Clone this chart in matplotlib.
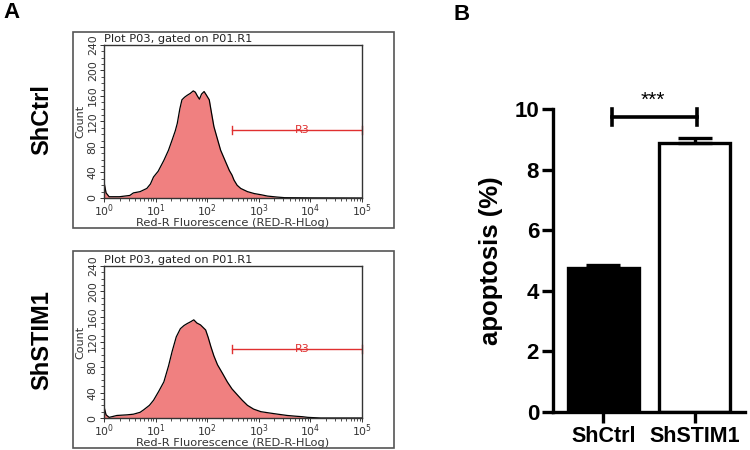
import numpy as np
import matplotlib
matplotlib.use('Agg')
import matplotlib.pyplot as plt
from matplotlib.patches import Rectangle

# ---- flow cytometry histograms (x as log10 of fluorescence, y = count)
ctrl_logx = [0.00, 0.04, 0.10, 0.30, 0.50, 0.57, 0.70, 0.83, 0.90, 0.96, 1.05, 1.16, 1.25,
             1.32, 1.38, 1.42, 1.47, 1.51, 1.56, 1.61, 1.67, 1.73, 1.77, 1.81, 1.85, 1.89,
             1.94, 1.98, 2.04, 2.08, 2.13, 2.20, 2.26, 2.35, 2.43, 2.48, 2.52, 2.58, 2.65,
             2.78, 2.91, 3.05, 3.17, 3.35, 3.50, 4.00, 5.00]
ctrl_count = [25, 8, 2, 2, 4, 8, 10, 15, 22, 33, 42, 59, 75,
              91, 105, 117, 140, 154, 158, 161, 164, 168, 166, 160, 155, 163,
              167, 162, 154, 135, 112, 92, 75, 58, 43, 36, 28, 20, 15,
              10, 7, 5, 3, 1.5, 0.5, 0.2, 0]

stim_logx = [0.00, 0.04, 0.10, 0.25, 0.45, 0.57, 0.70, 0.77, 0.88, 0.96, 1.06, 1.16, 1.25,
             1.32, 1.40, 1.48, 1.55, 1.61, 1.68, 1.74, 1.80, 1.87, 1.92, 1.97, 2.02, 2.07,
             2.13, 2.20, 2.30, 2.39, 2.48, 2.59, 2.68, 2.78, 2.90, 3.04, 3.20, 3.37, 3.55,
             3.69, 3.85, 3.95, 4.20, 5.00]
stim_count = [18, 5, 1, 4, 5, 6, 9, 13, 20, 28, 42, 57, 82,
              105, 128, 141, 146, 149, 152, 155, 150, 147, 143, 139, 127, 113,
              98, 84, 70, 57, 46, 36, 28, 20, 14, 10, 8, 6, 4,
              3, 2, 1, 0, 0]

gate_start = 10 ** 2.48
gate_end = 1e5
gate_y = [107, 109]

# ---- bar chart
groups = ['ShCtrl', 'ShSTIM1']
apoptosis = [4.76, 8.88]
apoptosis_err = [0.10, 0.15]

fig = plt.figure(figsize=(7.5, 4.5), dpi=100)
W, H = 750.0, 450.0


def px_axes(x0, y0, x1, y1):
    return fig.add_axes([x0 / W, 1 - y1 / H, (x1 - x0) / W, (y1 - y0) / H])


panels = [
    (ctrl_logx, ctrl_count, gate_y[0], (45, 198), (32, 228), 'ShCtrl'),
    (stim_logx, stim_count, gate_y[1], (266, 418), (251, 448), 'ShSTIM1'),
]
for logx, counts, gy, (ytop, ybot), (otop, obot), name in panels:
    fig.patches.append(Rectangle((73 / W, 1 - obot / H), (394 - 73) / W, (obot - otop) / H,
                                 transform=fig.transFigure, fill=False,
                                 edgecolor='#555555', linewidth=1.2))
    ax = px_axes(104, ytop, 362, ybot)
    xs = 10 ** np.array(logx)
    ax.fill_between(xs, counts, 0, color='#F08080', linewidth=0)
    ax.plot(xs, counts, color='black', linewidth=0.9)
    ax.set_xscale('log')
    ax.set_xlim(1, 1e5)
    ax.set_ylim(0, 240)
    ax.set_yticks(range(0, 241, 40))
    ax.set_yticks(range(0, 241, 10), minor=True)
    for tl in ax.get_yticklabels():
        tl.set_rotation(90)
        tl.set_va('center')
    ax.tick_params(axis='both', which='major', labelsize=7.8, length=3, width=0.7,
                   colors='#333333', pad=1.5)
    ax.tick_params(axis='x', which='major', pad=0.3)
    ax.tick_params(axis='both', which='minor', length=2, width=0.6, colors='#333333')
    for s in ax.spines.values():
        s.set_color('#333333')
        s.set_linewidth(1.0)
    ax.set_ylabel('Count', fontsize=8, color='#333333', labelpad=2)
    ax.set_xlabel('Red-R Fluorescence (RED-R-HLog)', fontsize=8.2, color='#333333',
                  labelpad=-1)
    ax.text(0.0, 1.005, 'Plot P03, gated on P01.R1', transform=ax.transAxes,
            fontsize=8.2, color='#222222', ha='left', va='bottom')
    # R3 gate
    ax.plot([gate_start, gate_end], [gy, gy], color='#E03030', linewidth=1.0)
    ax.plot([gate_start, gate_start], [gy - 6, gy + 6], color='#E03030', linewidth=1.0)
    ax.plot([gate_end, gate_end], [gy - 6, gy + 6], color='#E03030', linewidth=1.0,
            clip_on=False)
    ax.text(10 ** 3.85, gy, 'R3', color='#E03030', fontsize=8, ha='center', va='center')
    fig.text(42 / W, 1 - ((ytop + ybot) / 2 - 2) / H, name, rotation=90, fontsize=17,
             fontweight='bold', family='Liberation Sans', ha='center', va='center')

# ---- panel B
axb = px_axes(553, 109, 745, 412)
pos = np.arange(len(groups))
axb.bar(pos, apoptosis, width=0.78, color=['black', 'white'], edgecolor='black',
        linewidth=2.4, zorder=2)
axb.errorbar(pos, apoptosis, yerr=[[0, 0], apoptosis_err], fmt='none', ecolor='black',
             elinewidth=2.4, capsize=12, capthick=2.4, zorder=3)
axb.set_xlim(-0.55, 1.55)
axb.set_ylim(0, 10)
axb.set_yticks(range(0, 11, 2))
axb.set_xticks(pos)
axb.set_xticklabels(groups)
for s in ['top', 'right']:
    axb.spines[s].set_visible(False)
for s in ['left', 'bottom']:
    axb.spines[s].set_linewidth(2.4)
axb.tick_params(axis='both', width=2.4, length=8, pad=2)
for tl in axb.get_yticklabels():
    tl.set_fontsize(16)
    tl.set_fontweight('bold')
    tl.set_family('Liberation Sans')
for tl in axb.get_xticklabels():
    tl.set_fontsize(15.5)
    tl.set_fontweight('bold')
    tl.set_family('Liberation Sans')
axb.set_ylabel('apoptosis (%)', fontsize=18.5, fontweight='bold', family='Liberation Sans')
axb.yaxis.set_label_coords((503 - 553) / 192.0, 0.5)

# significance bracket
axb.plot([0.09, 1.03], [9.74, 9.74], color='black', linewidth=2.6, clip_on=False)
axb.plot([0.09, 0.09], [9.48, 10.0], color='black', linewidth=2.6, clip_on=False)
axb.plot([1.03, 1.03], [9.48, 10.0], color='black', linewidth=2.6, clip_on=False)
axb.text(0.54, 10.3, '***', fontsize=15, family='Liberation Sans',
         ha='center', va='center')

fig.text(11 / W, 1 - 13 / H, 'A', fontsize=16, fontweight='bold', family='Liberation Sans',
         ha='center', va='center')
fig.text(462 / W, 1 - 14 / H, 'B', fontsize=16, fontweight='bold', family='Liberation Sans',
         ha='center', va='center')

fig.savefig('out.png', dpi=100)
